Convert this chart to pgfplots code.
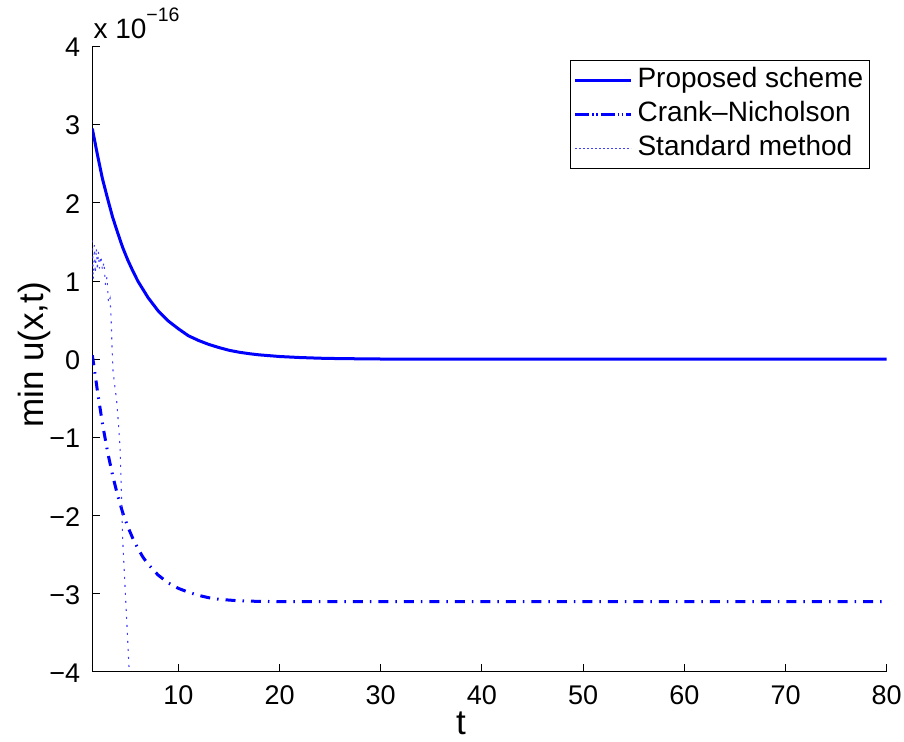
\documentclass[border=0pt]{standalone}
\usepackage{fontspec}
\setmainfont{Liberation Sans}
\usepackage{pgfplots}
\pgfplotsset{compat=1.18}

\begin{document}
\begin{tikzpicture}[x=1bp,y=1bp]
\path[use as bounding box] (0,0) rectangle (904,742);
\begin{axis}[
  name=ax,
  at={(92.3bp,70bp)}, anchor=south west,
  scale only axis, width=794.4bp, height=625.5bp,
  xmin=1.5, xmax=80, ymin=-4, ymax=4,
  axis x line*=bottom, axis y line*=left,
  axis line style={-, line width=1bp, black},
  tick style={line width=1bp, black},
  tick align=inside, major tick length=8bp,
  xtick={10,20,30,40,50,60,70,80},
  xticklabels={10,20,30,40,50,60,70,80},
  ytick={-4,-3,-2,-1,0,1,2,3,4},
  yticklabels={−4,−3,−2,−1,0,1,2,3,4},
  tick label style={font=\fontsize{27bp}{30bp}\selectfont},
  xticklabel style={anchor=base, inner sep=0pt, yshift=-33bp},
  yticklabel style={anchor=east, inner sep=0pt, xshift=-12bp, yshift=-1bp},
  xlabel={t}, ylabel={min u(x,t)},
  label style={font=\fontsize{35bp}{38bp}\selectfont},
  xlabel style={at={(axis description cs:0.4641,-0.1)}, anchor=base, inner sep=0pt},
  ylabel style={at={(axis description cs:-0.0608,0.507)}, anchor=base, inner sep=0pt},
  legend style={at={(0.9786,0.979)}, anchor=north east, draw=black, line width=1bp,
    font=\fontsize{28bp}{30bp}\selectfont, inner sep=3bp, row sep=0pt,
    nodes={inner xsep=3bp, inner ysep=3bp, text height=21bp, text depth=7bp},
    /tikz/every odd column/.append style={column sep=2bp}},
  legend cell align=left,
  legend image code/.code={\path (-4bp,0bp) -- (52bp,0bp);\draw[#1] (0bp,0bp) -- (52bp,0bp);},
]
% proposed scheme: smooth decay to zero
\addplot[blue, line width=3bp] coordinates {
  (1.5,2.95) (2,2.62) (2.5,2.31) (3,2.06) (3.5,1.82) (4,1.62) (4.5,1.43)
  (5,1.27) (5.5,1.13) (6,1.00) (7,0.79) (8,0.62) (9,0.49) (10,0.39)
  (11,0.30) (12,0.24) (13,0.19) (14,0.15) (15,0.115) (16,0.09) (17,0.071)
  (18,0.056) (20,0.035) (22,0.022) (24,0.013) (26,0.008) (30,0.003)
  (35,0.001) (40,0) (50,0) (60,0) (70,0) (80,0)
};
\addlegendentry{Proposed scheme}
% Crank--Nicholson: settles at a negative minimum
\addplot[blue, line width=3bp, dash pattern=on 10bp off 7bp on 1.5bp off 7bp] coordinates {
  (1.5,0.05) (1.7,-0.12) (2.0,-0.40) (2.5,-0.82) (3.0,-1.18) (3.5,-1.48)
  (4.0,-1.74) (4.5,-1.96) (5.0,-2.14) (5.5,-2.29) (6.0,-2.42) (6.5,-2.53)
  (7.0,-2.62) (8.0,-2.76) (9.0,-2.86) (10,-2.93) (11,-2.98) (12,-3.02)
  (13,-3.05) (14,-3.07) (15,-3.08) (16,-3.09) (18,-3.097) (20,-3.1)
  (30,-3.1) (40,-3.1) (50,-3.1) (60,-3.1) (70,-3.1) (80,-3.1)
};
\addlegendentry{Crank\textendash Nicholson}
% standard method: oscillates, then blows up
\addplot[blue!75, line width=1.1bp, dash pattern=on 2bp off 6bp] coordinates {
  (1.5,1.52) (1.6,1.02) (1.7,1.46) (1.8,1.10) (1.9,1.42) (2.0,1.14)
  (2.1,1.38) (2.2,1.16) (2.35,1.32) (2.5,1.14) (2.65,1.24) (2.8,0.95)
  (2.95,1.05) (3.1,0.72) (3.25,0.78) (3.35,0.55) (3.45,0.15) (3.55,-0.15)
  (3.7,-0.32) (3.9,-0.52) (4.1,-0.85) (4.25,-1.15) (4.35,-1.6) (4.5,-2.3)
  (4.75,-2.95) (5.0,-3.6) (5.15,-4.0) (5.3,-4.4)
};
\addlegendentry{Standard method}
\end{axis}
\node[anchor=base west, inner sep=0pt, font=\fontsize{28bp}{30bp}\selectfont]
  at ([xshift=1bp, yshift=7.5bp]ax.north west)
  {x 10\raisebox{17bp}{\fontsize{19.5bp}{21bp}\selectfont −16}};
\end{tikzpicture}
\end{document}
